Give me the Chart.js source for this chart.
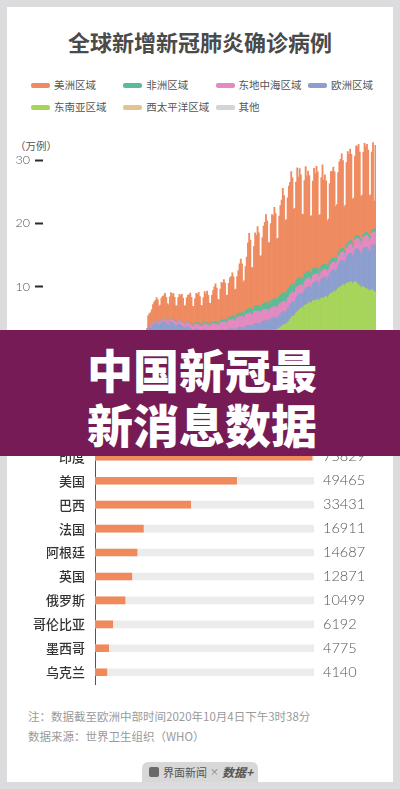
<!DOCTYPE html>
<html>
<head>
<meta charset="utf-8">
<script src="https://cdn.jsdelivr.net/npm/chart.js@4.4.1/dist/chart.umd.min.js"></script>
<style>
  html, body { margin: 0; padding: 0; }
  body {
    width: 400px; height: 789px; overflow: hidden; position: relative;
    background: #dcdcdf;
    font-family: "Noto Sans CJK SC", "Noto Sans", sans-serif;
  }
  .card { position: absolute; left: 7px; top: 7px; width: 386px; height: 775px; background: #fff; }
  .abs { position: absolute; white-space: nowrap; }
  #title {
    left: 0; width: 400px; top: 26px; text-align: center;
    font-size: 22px; font-weight: 700; color: #4a4a4a; line-height: 30px;
  }
  .lg-sw { position: absolute; width: 19px; height: 5px; border-radius: 2px; }
  .lg-tx { position: absolute; font-size: 10.5px; color: #555; line-height: 14px; }
  #unit { left: 15px; top: 139px; font-size: 10.5px; color: #555; line-height: 14px; }
  #wrap1 { position: absolute; left: 7px; top: 128.6px; width: 386px; height: 233px; }
  #wrap2 { position: absolute; left: 7px; top: 427px; width: 386px; height: 275px; }
  #banner {
    position: absolute; left: 0; top: 330px; width: 400px; height: 126px;
    background: #761b55; z-index: 5; text-align: center; color: #fff;
    font-size: 46px; font-weight: 900; line-height: 55px; padding-top: 11px; box-sizing: border-box;
    padding-left: 4px;
  }
  .note { left: 28px; font-size: 11.5px; color: #9a9a9a; line-height: 16px; }
  #tab {
    position: absolute; left: 142px; top: 762px; width: 116px; height: 20px;
    background: #d8d8d8; border-radius: 6px 6px 0 0;
  }
  #tab .ic { position: absolute; left: 7px; top: 5px; width: 10px; height: 10px; border-radius: 2px; background: #6a6a6a; }
  #tab .t1 { position: absolute; left: 21px; top: 2px; font-size: 11px; color: #555; line-height: 16px; }
  #tab .t2 { position: absolute; left: 68px; top: 2px; font-size: 9px; color: #777; line-height: 16px; }
  #tab .t3 { position: absolute; left: 80px; top: 1px; font-size: 12px; font-weight: 700; color: #555; line-height: 17px; font-style: italic; }
</style>
</head>
<body>
<div class="card"></div>
<div id="title" class="abs">全球新增新冠肺炎确诊病例</div>
<div id="legend"></div>
<div id="unit" class="abs">（万例）</div>
<div id="wrap1"><canvas id="daily"></canvas></div>
<div id="wrap2"><canvas id="countries"></canvas></div>
<div id="banner">中国新冠最<br>新消息数据</div>
<div class="abs note" style="top:708px">注：数据截至欧洲中部时间2020年10月4日下午3时38分</div>
<div class="abs note" style="top:728px">数据来源：世界卫生组织（WHO）</div>
<div id="tab"><div class="ic"></div><div class="t1">界面新闻</div><div class="t2">×</div><div class="t3">数据+</div></div>

<script>
// 各区域每日新增确诊（万例），从3月20日到10月3日逐日
const firstDay = 79; // 3月20日，以1月1日为第0天
const lastDay = 276; // 10月3日

const qiTa = [];

const xiTaiPingYang = [
  0.15,0.18,0.2,0.2,0.22,0.25,0.25,
  0.27,0.3,0.3,0.28,0.32,0.35,0.33,
  0.38,0.4,0.42,0.4,0.38,0.45,0.42,
  0.5,0.52,0.48,0.5,0.47,0.5,0.46,
  0.45,0.42,0.4,0.38,0.4,0.37,0.35,
  0.33,0.3,0.3,0.28,0.3,0.27,0.26,
  0.25,0.22,0.2,0.2,0.19,0.21,0.2,
  0.2,0.19,0.18,0.2,0.19,0.2,0.21,
  0.2,0.22,0.2,0.19,0.2,0.21,0.2,
  0.21,0.2,0.22,0.2,0.19,0.21,0.22,
  0.23,0.22,0.24,0.2,0.22,0.25,0.24,
  0.26,0.25,0.28,0.25,0.27,0.3,0.28,
  0.3,0.28,0.3,0.27,0.3,0.32,0.3,
  0.31,0.3,0.33,0.29,0.31,0.34,0.32,
  0.33,0.34,0.35,0.32,0.34,0.36,0.35,
  0.37,0.38,0.4,0.36,0.39,0.42,0.4,
  0.45,0.47,0.5,0.46,0.5,0.53,0.52,
  0.55,0.58,0.6,0.56,0.6,0.64,0.62,
  0.7,0.74,0.8,0.76,0.82,0.86,0.84,
  0.92,0.95,1.0,0.96,1.02,1.06,1.04,
  1.08,1.1,1.12,1.05,1.1,1.14,1.1,
  1.12,1.1,1.08,1.04,1.1,1.12,1.1,
  1.05,1.02,1.0,0.96,1.0,1.02,0.98,
  0.95,0.92,0.9,0.86,0.9,0.92,0.88,
  0.85,0.82,0.8,0.78,0.8,0.82,0.8,
  0.8,0.78,0.76,0.75,0.78,0.8,0.79,
  0.8,0.78,0.77,0.75,0.8,0.82,0.8,
  0.8,0.79,0.78,0.74,0.79,0.82,0.8,
  0.8,0.78
];

const dongNanYa = [
  0.03,0.04,0.04,0.05,0.05,0.06,0.07,
  0.08,0.09,0.1,0.1,0.11,0.12,0.13,
  0.15,0.17,0.18,0.18,0.2,0.21,0.22,
  0.2,0.22,0.21,0.2,0.22,0.23,0.24,
  0.26,0.28,0.27,0.26,0.3,0.31,0.32,
  0.3,0.32,0.31,0.29,0.32,0.33,0.34,
  0.36,0.38,0.37,0.35,0.4,0.42,0.43,
  0.45,0.48,0.47,0.45,0.5,0.52,0.54,
  0.55,0.58,0.6,0.56,0.6,0.63,0.65,
  0.7,0.74,0.77,0.74,0.8,0.84,0.87,
  0.9,0.94,0.98,0.95,1.0,1.04,1.07,
  1.1,1.15,1.18,1.12,1.2,1.25,1.28,
  1.3,1.35,1.4,1.34,1.4,1.45,1.5,
  1.55,1.6,1.66,1.6,1.7,1.76,1.8,
  1.85,1.92,2.0,1.95,2.02,2.1,2.15,
  2.2,2.3,2.4,2.3,2.4,2.45,2.5,
  2.5,2.6,2.7,2.6,2.75,2.85,2.95,
  3.1,3.25,3.4,3.3,3.5,3.65,3.8,
  4.1,4.3,4.5,4.5,4.7,4.9,5.1,
  5.3,5.4,5.6,5.5,5.7,5.9,6.0,
  6.1,6.2,6.4,6.2,6.4,6.6,6.7,
  6.6,6.7,6.9,6.6,6.8,7.0,7.1,
  7.1,7.3,7.4,7.2,7.5,7.7,7.9,
  8.0,8.2,8.4,8.2,8.5,8.8,9.0,
  9.1,9.3,9.5,9.2,9.5,9.7,9.8,
  9.7,9.9,10.0,9.7,9.8,10.0,9.9,
  9.6,9.5,9.3,9.0,9.1,9.2,9.0,
  8.9,8.8,8.7,8.5,8.6,8.7,8.6,
  8.4,8.3
];

const ouZhou = [
  1.2,1.3,1.5,1.6,1.7,1.8,1.9,
  2.0,3.0,3.1,3.0,3.1,3.4,3.5,
  3.6,3.7,3.5,3.2,3.3,3.6,3.7,
  3.8,3.7,3.5,3.3,3.2,3.6,3.7,
  3.5,3.4,3.3,3.0,3.1,3.3,3.4,
  3.2,3.1,3.0,2.8,2.8,3.0,3.1,
  2.8,2.7,2.6,2.4,2.4,2.6,2.7,
  2.6,2.5,2.4,2.2,2.2,2.4,2.5,
  2.3,2.3,2.2,2.0,2.0,2.2,2.3,
  2.1,2.1,2.0,1.8,1.8,2.0,2.1,
  2.0,1.9,1.9,1.7,1.7,1.9,2.0,
  1.9,1.8,1.8,1.6,1.6,1.8,1.9,
  1.9,1.8,1.8,1.6,1.7,1.9,1.9,
  2.0,1.9,1.9,1.7,1.7,2.0,2.0,
  2.0,1.9,1.9,1.7,1.8,2.0,2.0,
  2.0,1.9,1.9,1.7,1.8,2.0,2.0,
  2.1,2.0,2.0,1.8,1.8,2.1,2.1,
  2.2,2.1,2.1,1.9,1.9,2.2,2.3,
  2.4,2.3,2.3,2.1,2.1,2.4,2.5,
  2.5,2.4,2.4,2.2,2.2,2.5,2.6,
  2.7,2.6,2.6,2.4,2.4,2.7,2.8,
  3.0,2.9,2.9,2.6,2.7,3.0,3.1,
  3.3,3.2,3.1,2.9,3.0,3.3,3.4,
  3.6,3.5,3.4,3.2,3.3,3.7,3.8,
  4.1,4.0,3.9,3.6,3.7,4.2,4.3,
  4.7,4.6,4.5,4.2,4.4,5.0,5.3,
  5.6,5.6,5.5,5.2,5.4,6.0,6.3,
  6.6,6.6,6.5,6.1,6.3,7.0,7.2,
  7.4,7.6
];

const dongDiZhongHai = [
  0.12,0.13,0.15,0.15,0.16,0.18,0.2,
  0.22,0.24,0.25,0.24,0.26,0.28,0.3,
  0.3,0.31,0.3,0.29,0.3,0.32,0.33,
  0.36,0.38,0.4,0.38,0.4,0.42,0.43,
  0.46,0.48,0.5,0.48,0.5,0.52,0.54,
  0.56,0.58,0.6,0.58,0.6,0.63,0.65,
  0.66,0.68,0.7,0.68,0.7,0.73,0.75,
  0.76,0.78,0.8,0.78,0.8,0.83,0.85,
  0.86,0.88,0.9,0.88,0.9,0.94,0.97,
  1.0,1.05,1.1,1.05,1.1,1.15,1.2,
  1.2,1.25,1.3,1.25,1.3,1.38,1.42,
  1.45,1.5,1.58,1.52,1.6,1.68,1.72,
  1.72,1.75,1.8,1.74,1.8,1.86,1.9,
  1.88,1.9,1.92,1.85,1.9,1.95,1.96,
  1.9,1.88,1.85,1.78,1.8,1.84,1.82,
  1.8,1.76,1.72,1.65,1.7,1.74,1.72,
  1.72,1.7,1.68,1.62,1.68,1.72,1.7,
  1.66,1.64,1.6,1.55,1.6,1.62,1.6,
  1.56,1.54,1.5,1.44,1.48,1.52,1.5,
  1.38,1.34,1.3,1.26,1.3,1.34,1.32,
  1.32,1.3,1.28,1.24,1.3,1.33,1.31,
  1.24,1.22,1.2,1.16,1.2,1.24,1.22,
  1.2,1.18,1.16,1.14,1.2,1.22,1.2,
  1.2,1.2,1.18,1.15,1.2,1.24,1.22,
  1.28,1.3,1.28,1.24,1.3,1.34,1.33,
  1.4,1.44,1.44,1.4,1.48,1.54,1.58,
  1.62,1.66,1.66,1.62,1.7,1.76,1.8,
  1.84,1.88,1.86,1.8,1.86,1.92,1.95,
  1.96,2.0
];

const feiZhou = [
  0.01,0.02,0.02,0.02,0.02,0.03,0.03,
  0.04,0.04,0.05,0.05,0.05,0.06,0.06,
  0.06,0.07,0.07,0.07,0.07,0.08,0.08,
  0.09,0.09,0.1,0.1,0.1,0.11,0.11,
  0.11,0.12,0.12,0.12,0.13,0.13,0.14,
  0.14,0.15,0.15,0.15,0.16,0.16,0.17,
  0.18,0.19,0.2,0.2,0.21,0.22,0.22,
  0.23,0.24,0.25,0.25,0.26,0.27,0.27,
  0.28,0.29,0.3,0.3,0.31,0.32,0.32,
  0.33,0.34,0.35,0.35,0.36,0.37,0.37,
  0.38,0.39,0.4,0.4,0.42,0.43,0.44,
  0.46,0.48,0.5,0.49,0.52,0.54,0.55,
  0.56,0.58,0.6,0.59,0.62,0.64,0.66,
  0.7,0.72,0.75,0.74,0.77,0.8,0.82,
  0.85,0.88,0.9,0.88,0.92,0.95,0.98,
  1.02,1.06,1.1,1.08,1.12,1.16,1.2,
  1.24,1.28,1.3,1.27,1.32,1.36,1.38,
  1.38,1.4,1.42,1.38,1.42,1.44,1.42,
  1.36,1.34,1.32,1.28,1.3,1.3,1.28,
  1.24,1.22,1.2,1.16,1.18,1.18,1.15,
  1.12,1.1,1.08,1.04,1.06,1.06,1.03,
  0.96,0.94,0.92,0.88,0.9,0.9,0.87,
  0.84,0.82,0.8,0.77,0.79,0.79,0.76,
  0.72,0.71,0.7,0.67,0.69,0.69,0.67,
  0.63,0.62,0.6,0.58,0.6,0.6,0.58,
  0.57,0.56,0.55,0.53,0.55,0.55,0.54,
  0.52,0.51,0.5,0.48,0.5,0.5,0.49,
  0.5,0.5,0.49,0.47,0.49,0.5,0.49,
  0.5,0.5
];

const meiZhou = [
  0.2,0.3,0.35,0.4,0.45,0.5,0.55,
  0.7,1.7,1.9,2.2,2.5,2.9,3.2,
  3.3,3.6,3.4,2.7,2.8,3.5,3.7,
  3.6,4.0,3.6,2.8,2.7,3.5,4.1,
  3.9,4.2,3.7,2.7,2.5,3.6,4.0,
  4.0,4.3,3.8,2.8,2.8,3.8,4.1,
  4.4,4.8,4.2,3.0,2.9,3.9,4.6,
  4.5,4.9,4.3,3.1,3.0,4.0,4.8,
  4.6,5.0,4.4,3.4,3.3,4.3,4.9,
  5.6,6.0,5.3,3.8,3.6,5.0,5.9,
  5.8,6.4,5.7,4.1,4.0,5.5,6.2,
  6.4,7.0,6.2,4.5,4.4,6.0,6.8,
  7.8,8.6,7.7,5.2,5.1,7.0,8.4,
  10.5,12.0,10.8,6.8,6.6,9.5,11.6,
  11.2,12.6,11.5,8.2,8.0,10.5,12.3,
  12.8,14.0,12.9,9.8,9.6,12.2,13.6,
  13.2,14.5,13.4,9.8,9.6,12.6,14.2,
  14.8,16.6,15.3,11.8,11.6,14.5,16.2,
  16.4,18.0,16.8,12.2,12.0,15.6,17.6,
  16.0,17.4,16.2,10.4,10.0,14.8,16.9,
  15.2,16.0,15.1,9.2,9.0,13.9,15.8,
  15.0,16.2,15.2,9.0,8.7,14.0,15.9,
  13.4,14.2,13.3,7.4,7.2,12.3,14.0,
  13.8,14.4,13.6,8.6,8.4,12.7,14.2,
  14.2,15.0,13.9,7.2,7.0,13.0,14.6,
  13.8,14.5,13.7,7.3,7.0,12.8,14.2,
  14.0,14.5,13.6,7.2,7.0,13.0,14.3,
  13.5,14.0,13.3,6.8,6.5,12.4,13.8,
  4.5,13.2
];

const regionNames = ['美洲区域', '非洲区域', '东地中海区域', '欧洲区域', '东南亚区域', '西太平洋区域', '其他'];
const regionColors = ['#ef8b60', '#5cbb97', '#e38ac0', '#8c9fce', '#a7d45b', '#e2c48e', '#d4d4d4'];
const regionSeries = [meiZhou, feiZhou, dongDiZhongHai, ouZhou, dongNanYa, xiTaiPingYang, qiTa];
const yTicks = [0, 10, 20, 30];

// 各国当日新增确诊（例）
const countries = ['印度', '美国', '巴西', '法国', '阿根廷', '英国', '俄罗斯', '哥伦比亚', '墨西哥', '乌克兰'];
const newCases = [75829, 49465, 33431, 16911, 14687, 12871, 10499, 6192, 4775, 4140];
const trackMax = 76500;

Chart.defaults.font.family = '"Noto Sans CJK SC", "Noto Sans", sans-serif';
Chart.defaults.animation = false;

// legend (html)
const lg = document.getElementById('legend');
regionNames.forEach(function(name, i) {
  const col = i % 4, row = Math.floor(i / 4);
  const x = 31 + col * 92.3, y = 85 + row * 22;
  const sw = document.createElement('div');
  sw.className = 'lg-sw';
  sw.style.left = x + 'px'; sw.style.top = (y - 2.5) + 'px';
  sw.style.background = regionColors[i];
  const tx = document.createElement('div');
  tx.className = 'lg-tx';
  tx.style.left = (x + 23) + 'px'; tx.style.top = (y - 7) + 'px';
  tx.textContent = name;
  lg.appendChild(sw); lg.appendChild(tx);
});

function toPoints(arr) {
  return arr.map(function(v, i) { return { x: firstDay + i, y: v }; });
}

// stacked from bottom: 其他 ... 美洲
const dailySets = [];
for (let i = regionNames.length - 1; i >= 0; i--) {
  dailySets.push({
    label: regionNames[i],
    data: toPoints(regionSeries[i]),
    backgroundColor: regionColors[i],
    borderWidth: 0,
    barPercentage: 1,
    categoryPercentage: 1
  });
}

new Chart(document.getElementById('daily'), {
  type: 'bar',
  data: { datasets: dailySets },
  options: {
    responsive: true,
    maintainAspectRatio: false,
    layout: { padding: { top: 10, bottom: 10, left: 0, right: 17 } },
    plugins: { legend: { display: false }, tooltip: { enabled: false } },
    scales: {
      x: { type: 'linear', offset: false, min: -0.5, max: lastDay + 0.5, stacked: true, display: false },
      y: {
        stacked: true, min: 0, max: 33,
        afterBuildTicks: function(s) { s.ticks = yTicks.map(function(v) { return { value: v }; }); },
        afterFit: function(s) { s.width = 36; },
        grid: { drawOnChartArea: false, drawTicks: true, tickLength: 8, tickWidth: 2, tickColor: '#2a2a2a' },
        border: { display: false },
        ticks: { padding: 5, color: '#555', font: { family: 'Lato', size: 12.5, weight: '300' } }
      }
    }
  }
});

new Chart(document.getElementById('countries'), {
  type: 'bar',
  data: {
    labels: countries,
    datasets: [
      { data: newCases, backgroundColor: '#f08a5d', barThickness: 7, grouped: false, order: 1 },
      { data: countries.map(function() { return trackMax; }), backgroundColor: '#ececec', barThickness: 7, grouped: false, order: 2 }
    ]
  },
  options: {
    indexAxis: 'y',
    responsive: true,
    maintainAspectRatio: false,
    layout: { padding: { top: 10, bottom: 10, left: 0, right: 0 } },
    plugins: { legend: { display: false }, tooltip: { enabled: false } },
    scales: {
      x: { min: 0, max: trackMax, display: false },
      y: {
        offset: true,
        afterFit: function(s) { s.width = 88; },
        grid: { display: true, drawOnChartArea: false, drawTicks: false },
        border: { display: true, color: '#555', width: 1 },
        ticks: { padding: 10, color: '#333', font: { size: 13, weight: '500' } }
      },
      y2: {
        type: 'category',
        labels: newCases.map(String),
        position: 'right',
        offset: true,
        afterFit: function(s) { s.width = 79; },
        grid: { display: false, drawTicks: false },
        border: { display: false },
        ticks: { padding: 9, color: '#555', font: { family: 'Lato', size: 14.5, weight: '300' } }
      }
    }
  }
});
</script>
</body>
</html>
